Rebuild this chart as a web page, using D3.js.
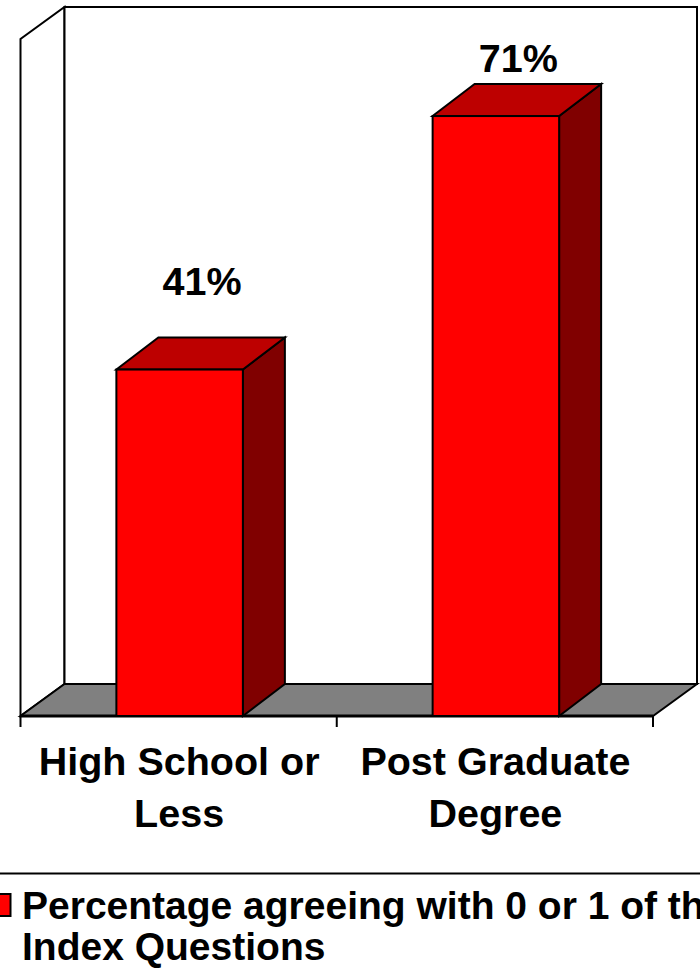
<!DOCTYPE html>
<html>
<head>
<meta charset="utf-8">
<script src="https://cdn.jsdelivr.net/npm/d3@7"></script>
<style>
html,body{margin:0;padding:0;background:#fff;overflow:hidden}
svg{display:block}
text{font-family:"Liberation Sans",Arial,sans-serif;font-weight:700;fill:#000}
</style>
</head>
<body>
<svg id="chart" width="700" height="973"></svg>
<script>
// Chart values
const categories = ["High School or|Less", "Post Graduate|Degree"];
const percentages = [41, 71];
const valueDomain = [0, 80];
const legendLines = ["Percentage agreeing with 0 or 1 of the", "Index Questions"];

const colors = {front:"#ff0000", top:"#bd0000", side:"#800000", floor:"#808080", ink:"#000"};

// Oblique projection used by the walls and the bars
const wallDepth = {x:44, y:-32};
const barDepth = {x:42, y:-32};
const plot = {left:20.5, right:653, bottom:716, top:39};

const x = d3.scaleBand().domain(categories).range([plot.left, plot.right])
  .paddingInner(0.6).paddingOuter(0.3);
const y = d3.scaleLinear().domain(valueDomain).range([plot.bottom, plot.top + 1]);

const svg = d3.select("#chart");
const poly = pts => "M" + pts.map(p => p.join(",")).join("L") + "Z";
const stroke = s => s.attr("stroke", colors.ink).attr("stroke-width", 2).attr("stroke-linejoin", "miter");

// Back and side walls
const y0 = y(0), yMax = plot.top;
const bx = plot.left + wallDepth.x, by0 = y0 + wallDepth.y, byMax = yMax + wallDepth.y;
const bxr = plot.right + wallDepth.x;
svg.append("path").attr("d", poly([[plot.left,y0],[plot.left,yMax],[bx,byMax],[bx,by0]]))
  .attr("fill", "#fff").call(stroke);
svg.append("path").attr("d", poly([[bx,by0],[bx,byMax],[bxr,byMax],[bxr,by0]]))
  .attr("fill", "#fff").call(stroke);

// Floor
svg.append("path").attr("d", poly([[plot.left,y0],[bx,by0],[bxr,by0],[plot.right,y0]]))
  .attr("fill", colors.floor).call(stroke);

// Category axis: baseline and ticks at the band boundaries
const step = x.step();
const tickPositions = d3.range(categories.length + 1).map(i => plot.left + i * step);
svg.append("line").attr("x1", plot.left).attr("x2", plot.right).attr("y1", y0).attr("y2", y0)
  .attr("stroke", colors.ink).attr("stroke-width", 3);
svg.selectAll("line.tick").data(tickPositions).join("line").attr("class", "tick")
  .attr("x1", d => d).attr("x2", d => d).attr("y1", y0).attr("y2", y0 + 11)
  .attr("stroke", colors.ink).attr("stroke-width", 2);

// Bars: side, top, then front face
const barShift = 1;
const bars = svg.selectAll("g.bar").data(categories.map((c, i) => ({c, v: percentages[i]})))
  .join("g").attr("class", "bar").attr("transform", `translate(${barShift},0)`);
bars.append("path").attr("fill", colors.side).call(stroke).attr("d", d => {
  const r = x(d.c) + x.bandwidth(), t = y(d.v);
  return poly([[r,y0],[r,t],[r+barDepth.x,t+barDepth.y],[r+barDepth.x,y0+barDepth.y]]);
});
bars.append("path").attr("fill", colors.top).call(stroke).attr("d", d => {
  const l = x(d.c), r = l + x.bandwidth(), t = y(d.v);
  return poly([[l,t],[l+barDepth.x,t+barDepth.y],[r+barDepth.x,t+barDepth.y],[r,t]]);
});
bars.append("rect").attr("fill", colors.front).call(stroke)
  .attr("x", d => x(d.c)).attr("width", x.bandwidth())
  .attr("y", d => y(d.v)).attr("height", d => y0 - y(d.v));

// Value labels sit above the top face; the shorter bar's label is lifted higher
const labelLift = [75, 44];
svg.selectAll("text.value").data(percentages).join("text").attr("class", "value")
  .attr("text-anchor", "middle").attr("font-size", 39.5)
  .attr("x", (d, i) => x(categories[i]) + x.bandwidth() / 2 + barShift + 22.5)
  .attr("y", (d, i) => y(d) - labelLift[i])
  .text(d => d + "%");

// Category labels, split over two lines
const catLabels = svg.selectAll("text.cat").data(categories).join("text").attr("class", "cat")
  .attr("text-anchor", "middle").attr("font-size", 39.5);
catLabels.selectAll("tspan").data(d => d.split("|").map(t => ({t, c: d}))).join("tspan")
  .attr("x", d => x(d.c) + x.bandwidth() / 2 + 0.5)
  .attr("y", (d, i) => 775 + i * 52)
  .text(d => d.t);

// Legend rule, swatch and text
svg.append("line").attr("x1", 0).attr("x2", 700).attr("y1", 873.5).attr("y2", 873.5)
  .attr("stroke", colors.ink).attr("stroke-width", 2);
svg.append("rect").attr("x", -11).attr("y", 894).attr("width", 21.5).attr("height", 22)
  .attr("fill", colors.front).call(stroke);
svg.selectAll("text.legend").data(legendLines).join("text").attr("class", "legend")
  .attr("x", 22).attr("y", (d, i) => 919 + i * 41).attr("font-size", 39).text(d => d);
</script>
</body>
</html>
